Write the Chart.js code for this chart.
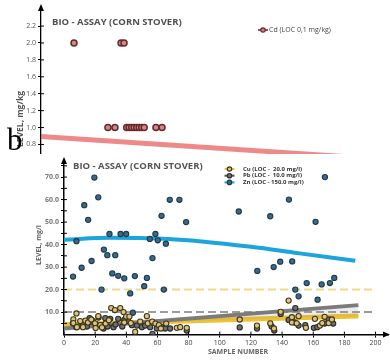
<!DOCTYPE html>
<html>
<head>
<meta charset="utf-8">
<script src="https://cdn.jsdelivr.net/npm/chart.js@4.4.0/dist/chart.umd.min.js"></script>
<style>
  html, body { margin: 0; padding: 0; background: #fff; }
  #wrap { position: relative; width: 390px; height: 364px; overflow: hidden; }
  #chartTop { position: absolute; left: 0; top: 0; }
  #chartBot { position: absolute; left: 0; top: 154px; background: #fff; }
</style>
</head>
<body>
<div id="wrap">
  <canvas id="chartTop" width="390" height="168"></canvas>
  <canvas id="chartBot" width="390" height="210"></canvas>
</div>
<script>
// ---- panel (top) : Cd ----
const topTitle = 'BIO - ASSAY (CORN STOVER)';
const topYTitle = 'LEVEL, mg/kg';
const panelLetter = 'b';
const cdLabel = 'Cd (LOC 0,1 mg/kg)';
const cdX = [21.1, 51.2, 53.1, 42.8, 47.3, 54.8, 56.4, 58.0, 59.6, 61.2, 62.8, 64.4, 66.0, 73.5, 77.4];
const cdY = [2.0, 2.0, 2.0, 1.0, 1.0, 1.0, 1.0, 1.0, 1.0, 1.0, 1.0, 1.0, 1.0, 1.0, 1.0];
const cdTrendX = [0, 220];
const cdTrendY = [0.894, 0.624];
const topYTicks = [0.8, 1.0, 1.2, 1.4, 1.6, 1.8, 2.0, 2.2];

// ---- panel (bottom) : Cu, Pb, Zn ----
const botTitle = 'BIO - ASSAY (CORN STOVER)';
const botYTitle = 'LEVEL, mg/l';
const botXTitle = 'SAMPLE NUMBER';
const seriesNames = ['Cu (LOC -  20.0 mg/l)', 'Pb (LOC -  10.0 mg/l)', 'Zn (LOC - 150.0 mg/l)'];

const cuX = [6, 6, 8, 10.4, 13.7, 15.4, 17.5, 19.9, 22, 23.3, 24.4, 26.7, 28.8, 30.3, 32.7, 36.1, 38.2, 39.9,
  42, 38.7, 42.9, 45.7, 48.9, 53.2, 53.8, 56.6, 58.7, 60.9, 65.6, 72.4, 74.6, 78.8, 62.2, 8.3, 12.2, 20.3,
  112.8, 123.9, 132.4, 134.8, 139.1, 144.2, 146.3, 146.3, 149.4, 150.6, 155.3, 161.1, 164.3, 167.3, 169.9, 172, 165.8];
const cuY = [6.8, 5.1, 9.4, 6, 6.2, 5.4, 6.7, 5, 8.2, 4.2, 3.2, 4.9, 6.4, 11.8, 10.9, 11.8, 10, 8,
  8, 5.4, 5.1, 1.2, 5.8, 8.2, 5, 5.8, 4.9, 4.2, 4.9, 3, 3.3, 3, 2.7, 3.3, 3.3, 2.9,
  6.7, 4, 5, 2.7, 10.1, 15.1, 7.7, 5.4, 5, 8.2, 3, 7, 4, 7.9, 5.1, 6.7, 5.1];

const pbX = [5.7, 7.9, 10.4, 14.7, 16.4, 18.6, 22.2, 25, 25.4, 28, 29.7, 31.8, 33.1, 34.8, 37.4, 41.2, 43.6, 46.8,
  50, 52.1, 55.3, 56.8, 59.6, 62.8, 64.9, 68.1, 78.8, 38.7, 26.5, 17.7, 12, 20.5,
  112.8, 123.9, 133.3, 135, 139.1, 144.2, 148.5, 148, 150.6, 154.9, 160.4, 162.6, 167.3, 169.9, 172.8];
const pbY = [5, 3.3, 4, 3.6, 7.3, 6, 7.6, 4.2, 2.7, 3.6, 7, 3.3, 4.5, 7, 3.6, 6, 4.2, 4,
  3.3, 4, 3.3, 0.3, 2.7, 3.3, 2.7, 2.7, 1.8, 6.5, 7.3, 5.8, 5, 4.5,
  3.2, 2.7, 3.6, 1.8, 9.2, 6.5, 11.8, 5.4, 4, 4.2, 3, 3.3, 4.9, 6.7, 4.9];

const znX = [8, 13, 15.5, 19.5, 22, 5.8, 11.3, 17.7, 25.6, 27.8, 32.9, 24.1, 31, 34.8, 38.7, 42.5, 45.5, 44.2,
  51.5, 53.2, 56.8, 64.1, 29.2, 36.3, 39.9, 55.1, 58.7, 60.2, 62.6, 65.4, 67.9, 74.1, 78.4,
  112.2, 132.4, 144.4, 161.5, 167.5, 124.1, 134.6, 138.8, 146.5, 155.8, 165.4, 170.7, 173.5, 148.5, 150.6, 162.8];
const znY = [41.5, 57.5, 51, 69.8, 61, 25.8, 29.7, 32.7, 37.8, 35.3, 35.3, 20, 27.2, 26.1, 25, 18.3, 26, 9.7,
  21.5, 25.2, 34, 20, 44.7, 44.7, 44.7, 42.5, 44.7, 41.9, 52.8, 40.4, 59.9, 59.9, 50,
  54.7, 52.6, 60, 50.1, 70, 28.3, 30, 32.4, 32.5, 22.9, 22.3, 22.9, 25.2, 20, 17, 15.5];

const znTrendX = [0, 30, 60, 90, 120, 150, 187];
const znTrendY = [42.2, 43.0, 42.7, 41.3, 39.0, 36.2, 32.8];
const pbTrendX = [0, 189];
const pbTrendY = [2.7, 13.1];
const cuTrendX = [0, 189];
const cuTrendY = [4.5, 8.3];
const locX = [0, 200];
const cuLoc = 20;
const pbLoc = 10;

const botXTicks = [0, 20, 40, 60, 80, 100, 120, 140, 160, 180, 200];
const botYTicks = [5, 10, 15, 20, 25, 30, 35, 40, 45, 50, 55, 60, 65, 70, 75];

function pts(xs, ys) {
  return xs.map((x, i) => ({ x: x, y: ys[i] }));
}

// white page background, axes arrows, crossing ticks, titles, legend, letter
const decor = {
  id: 'decor',
  beforeDraw(chart) {
    const ctx = chart.ctx;
    ctx.save();
    ctx.fillStyle = '#fff';
    ctx.fillRect(0, 0, chart.width, chart.height);
    ctx.restore();
  },
  afterDraw(chart, args, o) {
    const ctx = chart.ctx;
    const a = chart.chartArea;
    ctx.save();
    ctx.fillStyle = '#000';
    ctx.strokeStyle = '#000';
    ctx.lineWidth = 1.3;
    // y axis arrow
    ctx.beginPath();
    ctx.moveTo(a.left, a.top);
    ctx.lineTo(a.left, a.top - 2);
    ctx.stroke();
    ctx.beginPath();
    ctx.moveTo(a.left, a.top - 5);
    ctx.lineTo(a.left - 3, a.top + 2);
    ctx.lineTo(a.left + 3, a.top + 2);
    ctx.closePath();
    ctx.fill();
    if (o.xArrow) {
      ctx.beginPath();
      ctx.moveTo(a.right + 2, a.bottom);
      ctx.lineTo(a.right - 5, a.bottom - 3);
      ctx.lineTo(a.right - 5, a.bottom + 3);
      ctx.closePath();
      ctx.fill();
    }
    // inner half of the tick marks
    ctx.lineWidth = 1;
    chart.scales.y.ticks.forEach(t => {
      const py = chart.scales.y.getPixelForValue(t.value);
      ctx.beginPath();
      ctx.moveTo(a.left, py);
      ctx.lineTo(a.left + 3, py);
      ctx.stroke();
    });
    if (chart.scales.x.options.display) {
      chart.scales.x.ticks.forEach(t => {
        const px = chart.scales.x.getPixelForValue(t.value);
        ctx.beginPath();
        ctx.moveTo(px, a.bottom);
        ctx.lineTo(px, a.bottom - 3);
        ctx.stroke();
      });
    }
    // texts
    (o.texts || []).forEach(t => {
      ctx.save();
      ctx.font = t.font;
      ctx.fillStyle = t.color;
      ctx.textAlign = t.align || 'left';
      ctx.textBaseline = t.base || 'middle';
      ctx.translate(t.x, t.y);
      if (t.rot) ctx.rotate(t.rot);
      ctx.fillText(t.text, 0, 0);
      ctx.restore();
    });
    // legend
    if (o.legend) {
      const L = o.legend;
      chart.data.datasets.filter(d => d.inLegend).forEach((d, i) => {
        const y = L.y + i * L.dy;
        ctx.strokeStyle = d.legendLine;
        ctx.lineWidth = 2;
        ctx.beginPath();
        ctx.moveTo(L.x - 5, y);
        ctx.lineTo(L.x + 5, y);
        ctx.stroke();
        ctx.beginPath();
        ctx.arc(L.x, y, 2.2, 0, Math.PI * 2);
        ctx.fillStyle = d.pointBackgroundColor;
        ctx.fill();
        ctx.lineWidth = 1.2;
        ctx.strokeStyle = d.pointBorderColor;
        ctx.stroke();
        ctx.font = L.font;
        ctx.fillStyle = L.color;
        ctx.textAlign = 'left';
        ctx.textBaseline = 'middle';
        ctx.fillText(d.label, L.tx, y);
      });
    }
    ctx.restore();
  }
};

const tickFont = { family: 'Open Sans', size: 7 };

new Chart(document.getElementById('chartTop'), {
  type: 'scatter',
  data: {
    datasets: [
      { label: cdLabel, data: pts(cdX, cdY), inLegend: true, legendLine: '#b14c4c',
        pointRadius: 3, pointBorderWidth: 1.5, pointBackgroundColor: '#c98a8a', pointBorderColor: '#6a2828' },
      { label: 'Cd trend', data: pts(cdTrendX, cdTrendY), showLine: true, pointRadius: 0,
        borderColor: 'rgba(232, 98, 98, 0.75)', borderWidth: 5 }
    ]
  },
  options: {
    responsive: false,
    animation: false,
    layout: { autoPadding: false, padding: { top: 9, right: 5, bottom: 0, left: 0 } },
    plugins: {
      legend: { display: false },
      tooltip: { enabled: false },
      decor: {
        texts: [
          { text: topTitle, x: 52, y: 22, font: 'bold 9.5px "Open Sans"', color: '#505050' },
          { text: topYTitle, x: 21, y: 119, rot: -Math.PI / 2, align: 'center', font: 'bold 8.5px "Open Sans"', color: '#555' },
          { text: panelLetter, x: 7, y: 150, base: 'alphabetic', font: '31px "Liberation Serif"', color: '#000' }
        ],
        legend: { x: 263, tx: 269, y: 30, dy: 7, font: '7px "Open Sans"', color: '#444' }
      }
    },
    scales: {
      x: { type: 'linear', display: false, min: 0, max: 220 },
      y: {
        min: 0.595, max: 2.402,
        afterFit: s => { s.width = 41; },
        afterBuildTicks: s => { s.ticks = topYTicks.map(v => ({ value: v })); },
        ticks: { callback: v => v.toFixed(1), font: tickFont, color: '#555', padding: 2 },
        grid: { drawOnChartArea: false, tickLength: 3, color: '#000' },
        border: { color: '#000', width: 1.3 }
      }
    }
  },
  plugins: [decor]
});

new Chart(document.getElementById('chartBot'), {
  type: 'scatter',
  data: {
    datasets: [
      { label: seriesNames[0], data: pts(cuX, cuY), inLegend: true, legendLine: '#e9c23a',
        pointRadius: 2.6, pointBorderWidth: 1.1, pointBackgroundColor: '#dcc47c', pointBorderColor: '#3f361a' },
      { label: seriesNames[1], data: pts(pbX, pbY), inLegend: true, legendLine: '#555',
        pointRadius: 2.6, pointBorderWidth: 1.1, pointBackgroundColor: '#707070', pointBorderColor: '#2a2a2a' },
      { label: seriesNames[2], data: pts(znX, znY), inLegend: true, legendLine: '#1aa3dc',
        pointRadius: 2.6, pointBorderWidth: 1.1, pointBackgroundColor: '#3a6a86', pointBorderColor: '#1d3a4d' },
      { label: 'Zn trend', data: pts(znTrendX, znTrendY), showLine: true, pointRadius: 0,
        borderColor: '#1ca4dd', borderWidth: 4, tension: 0.4, cubicInterpolationMode: 'monotone' },
      { label: 'Pb trend', data: pts(pbTrendX, pbTrendY), showLine: true, pointRadius: 0,
        borderColor: '#7b7b7b', borderWidth: 4, fill: 5, backgroundColor: 'rgba(150,150,150,0.18)' },
      { label: 'Cu trend', data: pts(cuTrendX, cuTrendY), showLine: true, pointRadius: 0,
        borderColor: '#efc232', borderWidth: 5 },
      { label: 'Cu LOC', data: pts(locX, locX.map(() => cuLoc)), showLine: true, pointRadius: 0,
        borderColor: '#f1da8c', borderWidth: 2, borderDash: [8, 4] },
      { label: 'Pb LOC', data: pts(locX, locX.map(() => pbLoc)), showLine: true, pointRadius: 0,
        borderColor: '#9c9c9c', borderWidth: 2, borderDash: [8, 4] }
    ]
  },
  options: {
    responsive: false,
    animation: false,
    layout: { autoPadding: false, padding: { top: 8, right: 2, bottom: 16, left: 0 } },
    plugins: {
      legend: { display: false },
      tooltip: { enabled: false },
      filler: { propagate: false },
      decor: {
        xArrow: true,
        texts: [
          { text: botTitle, x: 73, y: 12, font: 'bold 9.5px "Open Sans"', color: '#555' },
          { text: botYTitle, x: 39, y: 91, rot: -Math.PI / 2, align: 'center', font: 'bold 7px "Open Sans"', color: '#666' },
          { text: botXTitle, x: 238, y: 198, align: 'center', font: 'bold 7px "Open Sans"', color: '#666' }
        ],
        legend: { x: 229.5, tx: 243, y: 15, dy: 6.7, font: 'bold 6px "Open Sans"', color: '#333' }
      }
    },
    scales: {
      x: {
        type: 'linear', min: 0, max: 208,
        afterBuildTicks: s => { s.ticks = botXTicks.map(v => ({ value: v })); },
        ticks: { font: { family: 'Open Sans', size: 7 }, color: '#444', padding: 1, autoSkip: false, maxRotation: 0 },
        grid: { drawOnChartArea: false, tickLength: 3, color: '#000' },
        border: { color: '#000', width: 1.5 }
      },
      y: {
        min: 0, max: 76.7,
        afterFit: s => { s.width = 64; },
        afterBuildTicks: s => { s.ticks = botYTicks.map(v => ({ value: v })); },
        ticks: { callback: v => (v % 10 === 0 ? v.toFixed(1) : ''), font: { family: 'Open Sans', size: 7, weight: 'bold' }, color: '#777', padding: 2 },
        grid: { drawOnChartArea: false, tickLength: 3, color: '#000' },
        border: { color: '#000', width: 1.5 }
      }
    }
  },
  plugins: [decor]
});
</script>
</body>
</html>
